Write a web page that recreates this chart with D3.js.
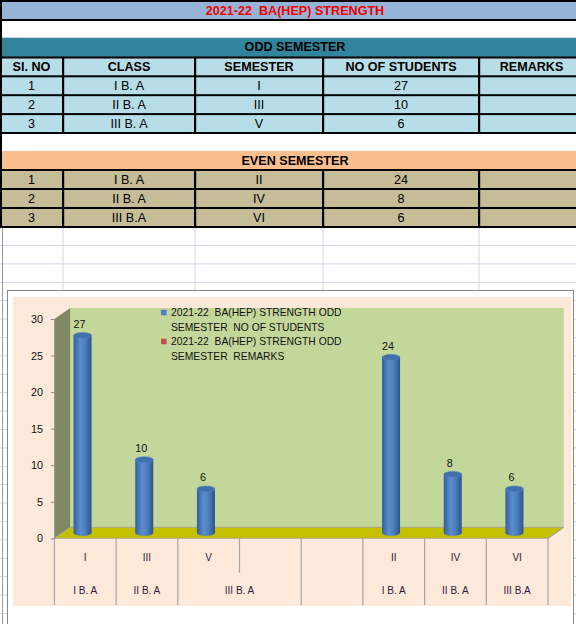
<!DOCTYPE html>
<html>
<head>
<meta charset="utf-8">
<style>
    body { margin: 0; background: #fff; }
    svg { display: block; }
    text { white-space: pre; }
</style>
</head>
<body>
<div id="sheet"></div>

<script src="https://cdnjs.cloudflare.com/ajax/libs/d3/7.6.1/d3.min.js"></script>
<script type="text/javascript">

    // ---- table data ----
    const title = "2021-22  BA(HEP) STRENGTH";
    const headers = ["SI. NO", "CLASS", "SEMESTER", "NO OF STUDENTS", "REMARKS"];
    const slNo = ["1", "2", "3"];
    const oddClasses = ["I B. A", "II B. A", "III B. A"];
    const oddSemesters = ["I", "III", "V"];
    const oddStudents = [27, 10, 6];
    const evenClasses = ["I B. A", "II B. A", "III B.A"];
    const evenSemesters = ["II", "IV", "VI"];
    const evenStudents = [24, 8, 6];

    // ---- chart data (the chart range includes the blank rows) ----
    const chartSemesters = ["I", "III", "V", "", "", "II", "IV", "VI"];
    const chartClasses = ["I B. A", "II B. A", "III B. A", "III B. A", "", "I B. A", "II B. A", "III B.A"];
    const chartValues = [27, 10, 6, null, null, 24, 8, 6];
    const yTicks = [0, 5, 10, 15, 20, 25, 30];
    const legendLabels = [
        ["2021-22  BA(HEP) STRENGTH ODD", "SEMESTER  NO OF STUDENTS"],
        ["2021-22  BA(HEP) STRENGTH ODD", "SEMESTER  REMARKS"]
    ];
    const legendColors = ["#4f81bd", "#c0504d"];

    const width = 576, height = 624;
    const colX = [0, 63, 195, 323, 479, 584];
    const font = "'Liberation Sans', Arial, sans-serif";

    const svg = d3.select("#sheet").append("svg")
        .attr("width", width)
        .attr("height", height);

    // spreadsheet gridlines under the tables
    const grid = svg.append("g").attr("stroke", "#d0d7e5").attr("stroke-width", 1);
    for (let gy = 245.5; gy < height; gy += 18.4) {
        grid.append("line").attr("x1", 0).attr("x2", width).attr("y1", gy).attr("y2", gy);
    }
    colX.slice(1, 5).forEach(cx => {
        grid.append("line").attr("x1", cx).attr("x2", cx).attr("y1", 227).attr("y2", height);
    });
    grid.append("line").attr("x1", 2.5).attr("x2", 2.5).attr("y1", 227).attr("y2", height)
        .attr("stroke", "#9a9a9a");

    // ---- tables ----
    function band(y0, y1, fill) {
        svg.append("rect").attr("x", 0).attr("y", y0).attr("width", width).attr("height", y1 - y0)
            .attr("fill", fill);
    }
    function hline(y) {
        svg.append("rect").attr("x", 0).attr("y", y - 1).attr("width", width).attr("height", 2).attr("fill", "#000");
    }
    function cellText(cx, cy, s, opts = {}) {
        svg.append("text")
            .attr("x", cx).attr("y", cy)
            .attr("text-anchor", "middle")
            .attr("dominant-baseline", "central")
            .attr("font-family", font)
            .attr("font-size", opts.size || 12.6)
            .attr("font-weight", opts.bold ? "bold" : "normal")
            .attr("fill", opts.color || "#000")
            .text(s);
    }
    const colCenter = i => (colX[i] + colX[i + 1]) / 2;

    band(0, 20, "#95b3d7");
    hline(1); hline(20);
    cellText(295, 10.5, title, { bold: true, color: "#f00000" });

    band(37.7, 57, "#31849b");
    cellText(295, 47.3, "ODD SEMESTER", { bold: true });

    band(57, 133, "#b7dee8");
    const oddRowY = [57.5, 76.3, 95.2, 114.1, 133];
    oddRowY.forEach(hline);
    headers.forEach((h, i) => cellText(colCenter(i), 67, h, { bold: true }));
    slNo.forEach((n, r) => {
        const cy = (oddRowY[r + 1] + oddRowY[r + 2]) / 2 + 0.5;
        [n, oddClasses[r], oddSemesters[r], oddStudents[r], ""].forEach((v, i) => cellText(colCenter(i), cy, v));
    });
    colX.slice(1, 5).forEach(cx => {
        svg.append("rect").attr("x", cx - 1).attr("y", 57).attr("width", 2.2).attr("height", 77).attr("fill", "#000");
    });

    band(151, 170, "#fabf8f");
    cellText(295, 160.5, "EVEN SEMESTER", { bold: true });

    band(170, 227, "#c4bd97");
    const evenRowY = [170, 189, 208, 227];
    evenRowY.forEach(hline);
    slNo.forEach((n, r) => {
        const cy = (evenRowY[r] + evenRowY[r + 1]) / 2 + 0.5;
        [n, evenClasses[r], evenSemesters[r], evenStudents[r], ""].forEach((v, i) => cellText(colCenter(i), cy, v));
    });
    colX.slice(1, 5).forEach(cx => {
        svg.append("rect").attr("x", cx - 1).attr("y", 169).attr("width", 2.2).attr("height", 59).attr("fill", "#000");
    });
    // left border of the sheet
    svg.append("rect").attr("x", 0).attr("y", 0).attr("width", 2).attr("height", 228).attr("fill", "#000");

    // ---- chart ----
    svg.append("rect")
        .attr("x", 7.5).attr("y", 290.5).attr("width", 566).attr("height", 400)
        .attr("fill", "#fff").attr("stroke", "#868686");
    svg.append("rect")
        .attr("x", 13).attr("y", 297).attr("width", 558.5).attr("height", 309)
        .attr("fill", "#fde9d9");

    const x = d3.scaleBand().domain(d3.range(chartSemesters.length)).range([54.4, 548]);
    const y = d3.scaleLinear().domain([0, 30]).range([538.3, 319]);
    const dx = 15.8, dy = -11;   // depth of the 3d box
    const [x0, x1] = x.range();
    const [yb, yt] = y.range();

    const chart = svg.append("g");
    // back wall
    chart.append("rect")
        .attr("x", x0 + dx).attr("y", yt + dy)
        .attr("width", x1 - x0).attr("height", yb - yt)
        .attr("fill", "#c4d79b");
    // side wall
    chart.append("path")
        .attr("d", `M${x0},${yt}L${x0 + dx},${yt + dy}L${x0 + dx},${yb + dy}L${x0},${yb}Z`)
        .attr("fill", "#7f8a62");
    // floor
    chart.append("path")
        .attr("d", `M${x0},${yb}L${x1},${yb}L${x1 + dx},${yb + dy}L${x0 + dx},${yb + dy}Z`)
        .attr("fill", "#c4c000")
        .attr("stroke", "#a0a0a0")
        .attr("stroke-width", 0.8);

    // y axis
    const yAxis = chart.append("g")
        .attr("transform", `translate(${x0},0)`)
        .call(d3.axisLeft(y).tickValues(yTicks).tickSize(3.5).tickPadding(8).tickSizeOuter(0));
    yAxis.select(".domain").attr("stroke", "#8a8a8a");
    yAxis.selectAll(".tick line").attr("stroke", "#8a8a8a");
    yAxis.selectAll(".tick text")
        .attr("font-family", font)
        .attr("font-size", 10.8)
        .attr("fill", "#111");

    // cylinders
    const defs = svg.append("defs");
    const grad = defs.append("linearGradient").attr("id", "cyl").attr("x1", 0).attr("x2", 1).attr("y1", 0).attr("y2", 0);
    [["0%", "#2f5c94"], ["12%", "#3f6fae"], ["38%", "#5b8dcc"], ["65%", "#4d7fbd"], ["100%", "#2b5486"]]
        .forEach(([o, c]) => grad.append("stop").attr("offset", o).attr("stop-color", c));

    const rx = 9, ry = 3;
    const barShift = -2.7, half = dy / 2;
    const bars = chart.selectAll("g.bar")
        .data(chartValues.map((v, i) => ({ v, i })).filter(d => d.v != null))
        .join("g")
        .attr("class", "bar");
    const cx = d => x(d.i) + x.bandwidth() / 2 + barShift;
    bars.append("ellipse")
        .attr("cx", cx).attr("cy", y(0) + half).attr("rx", rx).attr("ry", ry)
        .attr("fill", "url(#cyl)");
    bars.append("rect")
        .attr("x", d => cx(d) - rx).attr("y", d => y(d.v) + half)
        .attr("width", rx * 2).attr("height", d => y(0) - y(d.v))
        .attr("fill", "url(#cyl)");
    bars.append("ellipse")
        .attr("cx", cx).attr("cy", d => y(d.v) + half).attr("rx", rx).attr("ry", ry)
        .attr("fill", "#416fab").attr("stroke", "#5a88c4").attr("stroke-width", 0.6);
    bars.append("text")
        .attr("x", d => cx(d) - 3).attr("y", d => y(d.v) + half - 7.8)
        .attr("text-anchor", "middle")
        .attr("font-family", font).attr("font-size", 10.8).attr("fill", "#111")
        .text(d => d.v);

    // category axis (two levels)
    const axisY = yb, lvl1Bottom = 572.7, lvl2Bottom = 605;
    chart.append("line")
        .attr("x1", x1).attr("x2", x1 + dx).attr("y1", yb).attr("y2", yb + dy)
        .attr("stroke", "#a0a0a0");
    const catAxis = chart.append("g").attr("stroke", "#a6a6a6").attr("stroke-width", 1.2);
    d3.range(chartSemesters.length + 1).forEach(i => {
        const lx = i < chartSemesters.length ? x(i) : x1;
        // a divider inside a merged class cell only spans the top level
        const merged = i > 0 && i < chartClasses.length && chartClasses[i] !== "" && chartClasses[i] === chartClasses[i - 1];
        catAxis.append("line")
            .attr("x1", lx).attr("x2", lx)
            .attr("y1", axisY).attr("y2", merged ? lvl1Bottom : lvl2Bottom);
    });
    chart.selectAll("text.sem")
        .data(chartSemesters)
        .join("text")
        .attr("class", "sem")
        .attr("x", (d, i) => x(i) + x.bandwidth() / 2)
        .attr("y", 557)
        .attr("text-anchor", "middle").attr("dominant-baseline", "central")
        .attr("font-family", font).attr("font-size", 10).attr("fill", "#2d1a3c")
        .text(d => d);

    // merge neighbouring equal class labels into one cell
    const groups = [];
    chartClasses.forEach((c, i) => {
        const last = groups[groups.length - 1];
        if (last && c !== "" && last.label === c) last.end = i;
        else groups.push({ label: c, start: i, end: i });
    });
    chart.selectAll("text.cls")
        .data(groups)
        .join("text")
        .attr("class", "cls")
        .attr("x", g => (x(g.start) + x(g.end) + x.bandwidth()) / 2)
        .attr("y", 590.5)
        .attr("text-anchor", "middle").attr("dominant-baseline", "central")
        .attr("font-family", font).attr("font-size", 10).attr("fill", "#2d1a3c")
        .text(g => g.label);

    // legend
    const legend = chart.append("g");
    legendLabels.forEach((lines, k) => {
        const ly = 312.7 + k * 29;
        legend.append("rect")
            .attr("x", 161).attr("y", ly - 3).attr("width", 5.6).attr("height", 5.6)
            .attr("fill", legendColors[k]);
        lines.forEach((t, j) => {
            legend.append("text")
                .attr("x", 171).attr("y", ly + j * 14.5)
                .attr("dominant-baseline", "central")
                .attr("font-family", font).attr("font-size", 10.3).attr("fill", "#111")
                .text(t);
        });
    });
</script>
</body>
</html>
